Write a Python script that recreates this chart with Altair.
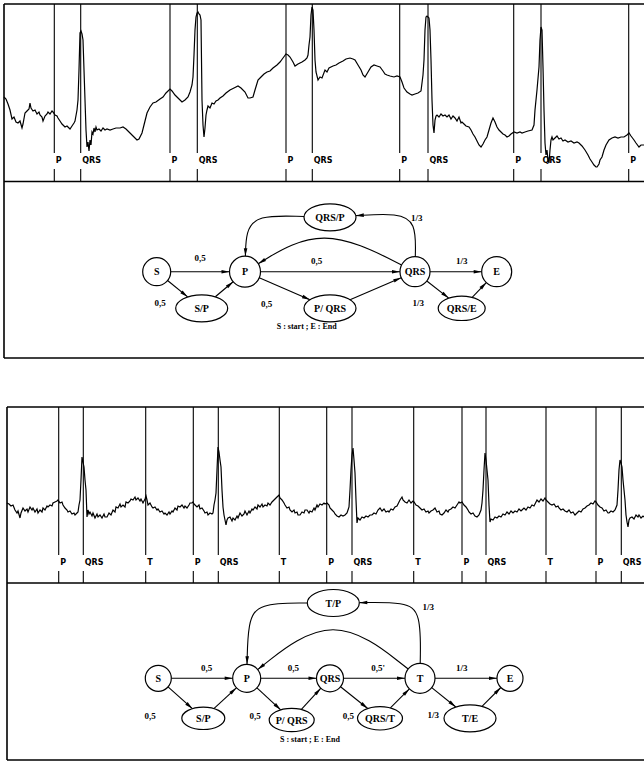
import math
import altair as alt
import pandas as pd

W, H = 644, 765

# ---------------- panel frames (pixel space, y downwards) ----------------
hline_y = [4, 181.5, 358, 407, 583, 760]
hline_x0 = [4, 4, 4, 7, 7, 7]
vline_x = [4, 7]
vline_y0 = [4, 407]
vline_y1 = [358, 760]

# ---------------- annotation markers on the ECG traces ----------------
top_marker_x = [54.3, 80.7, 170, 197.3, 286, 312.3, 399.7, 428, 513.7, 541, 628.7]
top_marker_lbl = ["P", "QRS", "P", "QRS", "P", "QRS", "P", "QRS", "P", "QRS", "P"]
low_marker_x = [58.7, 83.3, 145.7, 193.3, 218.3, 279.3, 326.7, 352, 413.7, 462, 486, 546, 596, 621.3]
low_marker_lbl = ["P", "QRS", "T", "P", "QRS", "T", "P", "QRS", "T", "P", "QRS", "T", "P", "QRS"]

# ---------------- ECG traces (x, y) ----------------
ecg_top = [(4,97),(6,99),(8,104),(10,110),(12,119),(14,117),(16,122),(18,123),(20,121),(22,128),(23,124),(25,113),
(27,111),(29,109),(30,103),(31,108),(33,111),(35,110),(37,114),(39,112),(40,115),(42,117),(43,121),(45,116),(47,114),
(48,112),(50,114),(52,111),(53,112),(55,115),(57,116),(58,118),(60,121),(62,124),(63,125),(65,127),(67,126),(69,128),
(70,129),(72,126),(74,123),(75,121),(77,110),(78,100),(79,70),(80,33),(81,31),(82,34),(83,40),(84,70),(85,100),(86,130),
(87,147),(88,142),(89,151),(90,140),(91,145),(92,132),(93,134),(94,128),(95,132),(96,127),(97,130),(99,129),(101,131),
(103,128),(105,130),(107,129),(110,130),(113,129),(116,128),(120,128),(123,127),(126,129),(130,133),(133,136),(137,140),
(139,139),(142,133),(144,125),(147,113),(150,107),(153,103),(156,102),(160,99),(163,97),(166,93),(170,89),(172,91),
(175,95),(178,98),(182,102),(185,100),(188,97),(190,92),(192,85),(193,77),(194,55),(195,30),(196,17),(197,13),(198,12),
(199,14),(200,15),(201,20),(201.5,60),(202,100),(203,125),(204,137),(205,128),(206,115),(207,110),(208,106),(210,108),
(212,103),(214,104),(216,101),(218,100),(220,98),(223,96),(226,93),(230,90),(234,88),(238,86),(241,88),(245,92),(248,98),
(250,98),(253,97),(255,90),(258,80),(261,77),(264,74),(267,72),(270,71),(273,68),(277,65),(280,62),(283,58),(286,54),
(288,55),(290,57),(293,62),(295,66),(298,64),(302,62),(305,60),(307,58),(308,55),(309,45),(310,37),(311,15),(312,7),
(313,10),(314,30),(315,60),(316,72),(318,80),(320,77),(322,78),(325,70),(327,72),(329,68),(333,66),(336,65),(339,63),
(343,61),(346,59),(350,58),(353,59),(355,60),(358,65),(361,70),(363,75),(365,77),(368,72),(371,67),(374,65),(377,66),
(380,67),(383,71),(385,74),(387,75),(390,76),(394,77),(397,76),(400,77),(402,82),(404,88),(407,92),(410,94),(412,95),
(415,94),(418,93),(421,91),(423,75),(424,60),(425,30),(426,17),(427,16),(429,18),(430,30),(431,60),(432,100),(433,125),
(434,133),(435,120),(436,116),(437,115),(439,117),(441,114),(443,116),(445,115),(447,117),(449,115),(451,119),(453,116),
(455,118),(457,121),(459,117),(461,123),(462,122),(464,124),(466,126),(469,127),(471,130),(473,134),(475,137),(477,141),
(479,145),(481,147),(483,144),(485,140),(487,137),(489,130),(491,123),(493,118),(495,122),(497,127),(499,130),(501,132),
(503,134),(505,135),(507,137),(509,136),(511,134),(514,132),(517,133),(520,132),(522,133),(525,132),(528,131),(532,130),
(534,125),(535,110),(537,90),(539,67),(540,40),(541,27),(542,30),(543,67),(544,110),(545,143),(546,155),(547,150),
(548,160),(549,163),(550,150),(551,140),(552,137),(553,140),(555,138),(557,136),(559,139),(561,138),(563,141),(565,140),
(568,142),(571,141),(574,143),(577,142),(579,143),(582,146),(585,150),(588,155),(590,159),(592,162),(594,165),(596,167),
(597,167),(599,164),(600,160),(602,157),(604,150),(606,145),(609,140),(612,138),(615,137),(618,138),(621,137),(624,137),
(627,135),(629,133),(631,136),(634,140),(636,143),(639,147),(641,145),(644,145)]

ecg_low = [(7,503),(9,504),(11,506),(13,505),(15,510),(17,513),(18,511),(20,518),(21,513),(23,508),(25,511),(27,509),
(28,512),(30,507),(32,510),(33,508),(35,512),(37,509),(38,513),(40,510),(42,512),(43,508),(45,510),(47,506),(48,507),
(50,505),(52,506),(53,503),(55,502),(57,501),(58,500),(60,503),(62,502),(63,505),(65,508),(67,510),(68,512),(70,511),
(72,514),(74,513),(75,515),(77,513),(78,512),(79,505),(80,500),(81,480),(82,457),(83,462),(84,467),(85,480),(86,490),
(87,517),(88,510),(89,514),(90,512),(92,516),(93,513),(95,518),(97,514),(98,517),(100,515),(102,518),(104,514),(105,517),
(107,517),(109,513),(111,515),(113,510),(115,512),(116,507),(118,508),(120,504),(121,507),(123,505),(125,507),(126,502),
(128,503),(130,501),(131,499),(133,500),(135,497),(136,500),(138,498),(140,501),(141,499),(143,503),(145,499),(146,496),
(147,500),(148,505),(150,503),(152,507),(153,508),(155,507),(157,510),(158,509),(160,512),(162,511),(164,514),(165,513),
(167,515),(169,512),(170,514),(172,511),(173,512),(175,508),(177,510),(178,506),(180,507),(182,505),(184,508),(185,506),
(187,508),(189,505),(190,503),(192,503),(193,502),(194,504),(195,505),(197,507),(199,505),(200,509),(202,508),(204,511),
(205,513),(207,512),(208,515),(210,513),(212,514),(213,513),(214,505),(215,500),(216,493),(217,470),(218,447),(219,452),
(220,460),(221,467),(222,490),(223,507),(224,515),(225,520),(226,525),(227,520),(228,518),(230,517),(232,521),(233,518),
(235,520),(237,516),(238,518),(240,513),(242,516),(244,514),(245,511),(247,515),(249,511),(250,513),(252,509),(253,510),
(255,507),(257,509),(258,505),(260,507),(262,504),(263,507),(265,505),(267,506),(268,503),(270,505),(272,502),(274,500),
(275,499),(277,497),(279,495),(280,498),(282,500),(284,503),(285,505),(287,508),(289,507),(290,510),(292,512),(294,510),
(295,513),(297,512),(298,515),(300,515),(302,512),(304,513),(305,510),(307,510),(309,513),(310,511),(312,512),(314,508),
(315,510),(317,505),(318,507),(320,504),(322,505),(324,503),(325,504),(327,503),(329,505),(330,508),(332,510),(334,512),
(335,514),(337,516),(339,517),(341,515),(343,516),(345,515),(347,513),(348,510),(349,507),(350,490),(351,470),(352,455),
(353,448),(354,460),(355,473),(356,500),(357,523),(358,518),(360,520),(362,517),(364,518),(366,516),(368,517),(370,515),
(372,515),(374,513),(376,514),(378,510),(380,508),(382,511),(384,509),(386,512),(388,511),(389,512),(391,509),(393,510),
(395,507),(397,506),(399,502),(400,500),(402,497),(403,500),(405,502),(407,503),(409,500),(411,503),(413,501),(414,502),
(416,505),(418,506),(420,508),(422,510),(424,509),(426,512),(428,511),(429,513),(431,511),(433,510),(435,508),(437,512),
(439,511),(440,514),(442,515),(444,513),(446,510),(448,512),(449,510),(451,509),(453,507),(455,508),(457,505),(459,502),
(460,503),(462,502),(464,505),(466,507),(468,510),(469,512),(471,514),(473,513),(475,516),(477,517),(479,515),(481,510),
(482,503),(483,490),(484,470),(485,453),(486,460),(487,470),(488,480),(489,505),(490,522),(491,519),(493,520),(495,517),
(497,518),(499,516),(501,517),(503,514),(505,515),(507,512),(509,514),(511,511),(513,513),(515,511),(517,512),(519,509),
(521,511),(522,510),(524,508),(526,510),(528,507),(530,508),(532,505),(534,506),(536,502),(537,500),(539,502),(541,499),
(543,501),(545,498),(546,500),(548,502),(550,504),(552,505),(554,504),(556,507),(558,506),(559,508),(561,510),(563,509),
(565,511),(567,512),(569,510),(571,513),(573,512),(575,515),(577,513),(579,511),(581,512),(583,509),(585,508),(587,506),
(589,505),(591,503),(593,504),(595,501),(596,502),(598,505),(600,507),(602,508),(604,511),(606,510),(608,513),(609,513),
(611,511),(613,512),(615,510),(617,505),(618,490),(619,470),(620,460),(621,463),(622,467),(623,480),(624,490),(625,500),
(626,515),(627,522),(628,527),(629,520),(630,518),(632,517),(634,519),(636,515),(638,517),(639,515),(641,518),(643,516),
(644,517)]

# ---------------- state diagram 1 (P / QRS) ----------------
d1_name = ["S", "P", "QRS", "E", "S/P", "P/ QRS", "QRS/E", "QRS/P"]
d1_x = [156.7, 245, 415, 496.7, 201.7, 330, 461.7, 330]
d1_y = [271.7, 271.7, 271.7, 271.7, 308.3, 308.3, 308.3, 217.3]
d1_r = [14, 15.5, 15, 15, 26, 26, 23.5, 26]          # radius / half-width
d1_kind = ["c", "c", "c", "c", "e", "e", "e", "e"]
d1_edges = [("S", "P"), ("S", "S/P"), ("S/P", "P"), ("P", "QRS"), ("P", "P/ QRS"),
            ("P/ QRS", "QRS"), ("QRS", "E"), ("QRS", "QRS/E"), ("QRS/E", "E")]
d1_curves = [("QRS", "P", [(322, 225)]),
             ("QRS", "QRS/P", [(416, 222), (398, 213)]),
             ("QRS/P", "P", [(256, 215), (246, 232)])]
d1_lbl = ["0,5", "0,5", "0,5", "0,5", "1/3", "1/3", "1/3"]
d1_lbl_x = [200, 160, 316.7, 266.7, 416.7, 461.7, 418.3]
d1_lbl_y = [257.5, 302.5, 260.5, 304, 217.5, 260.5, 303.3]
cap1 = ("S : start ; E : End", 306.7, 327)

# ---------------- state diagram 2 (P / QRS / T) ----------------
d2_name = ["S", "P", "QRS", "T", "E", "S/P", "P/ QRS", "QRS/T", "T/E", "T/P"]
d2_x = [158.3, 246.7, 330, 420, 510, 203.3, 291.7, 380, 470, 333.3]
d2_y = [678.3, 678.3, 678.3, 678.3, 678.3, 718.3, 720, 718.3, 718.3, 603]
d2_r = [13, 14, 13.5, 15, 13, 21.5, 22.5, 22.5, 26, 26]
d2_kind = ["c", "c", "c", "c", "c", "e", "e", "e", "e", "e"]
d2_edges = [("S", "P"), ("S", "S/P"), ("S/P", "P"), ("P", "QRS"), ("P", "P/ QRS"), ("P/ QRS", "QRS"),
            ("QRS", "T"), ("QRS", "QRS/T"), ("QRS/T", "T"), ("T", "E"), ("T", "T/E"), ("T/E", "E")]
d2_curves = [("T", "P", [(333, 610)]),
             ("T", "T/P", [(421, 612), (405, 602)]),
             ("T/P", "P", [(258, 603), (248, 622)])]
d2_lbl = ["0,5", "0,5", "0,5", "0,5", "0,5'", "0,5", "1/3", "1/3", "1/3"]
d2_lbl_x = [206.7, 150, 293.3, 255, 378, 348.3, 461.7, 433.3, 428.3]
d2_lbl_y = [667.5, 716, 667.5, 715.5, 667.5, 715.5, 667.5, 715, 606.5]
cap2 = ("S : start ; E : End", 310, 740)

ASPECT = 0.52
K = 0.5523
ELLIPSE = (f"M-1,0C-1,{-K*ASPECT:.3f} {-K:.3f},{-ASPECT} 0,{-ASPECT}"
           f"C{K:.3f},{-ASPECT} 1,{-K*ASPECT:.3f} 1,0"
           f"C1,{K*ASPECT:.3f} {K:.3f},{ASPECT} 0,{ASPECT}"
           f"C{-K:.3f},{ASPECT} -1,{K*ASPECT:.3f} -1,0Z")
ARROW = "M1,0L-1,-0.45L-1,0.45Z"
ARROW_LEN = 8

# ---------------- build tables ----------------
seg_frame = []
for y, x0 in zip(hline_y, hline_x0):
    seg_frame.append(dict(x=x0, y=y, x2=W, y2=y))
for x, y0, y1 in zip(vline_x, vline_y0, vline_y1):
    seg_frame.append(dict(x=x, y=y0, x2=x, y2=y1))

seg_mark, mark_txt = [], []
for x, l in zip(top_marker_x, top_marker_lbl):
    seg_mark.append(dict(x=x, y=4, x2=x, y2=153))
    seg_mark.append(dict(x=x, y=169, x2=x, y2=181.5))
    mark_txt.append(dict(x=x + 1.5, y=161, t=l))
for x, l in zip(low_marker_x, low_marker_lbl):
    seg_mark.append(dict(x=x, y=407, x2=x, y2=555))
    seg_mark.append(dict(x=x, y=571, x2=x, y2=583))
    mark_txt.append(dict(x=x + 1.5, y=563, t=l))

ecg_rows = []
for sid, tr in (("top", ecg_top), ("low", ecg_low)):
    for i, (x, y) in enumerate(tr):
        ecg_rows.append(dict(id=sid, i=i, x=x, y=y))

node_rows, edge_rows, curve_rows, arrow_rows, txt_rows, lbl_rows = [], [], [], [], [], []


def build(names, xs_, ys_, rs, kinds, edges, curves, lbl, lx, ly, cap, tag):
    nodes = {}
    for n, x, y, r, k in zip(names, xs_, ys_, rs, kinds):
        ry = r if k == "c" else r * ASPECT
        nodes[n] = (x, y, r, ry)
        node_rows.append(dict(x=x, y=y, size=(2 * r) ** 2, kind=k))
        txt_rows.append(dict(x=x, y=y + 0.5, t=n))

    def bnd(n, tx, ty):
        cx, cy, rx, ry = nodes[n]
        dx, dy = tx - cx, ty - cy
        t = 1 / math.sqrt((dx / rx) ** 2 + (dy / ry) ** 2)
        return cx + dx * t, cy + dy * t

    def arrow(px, py, ex, ey):
        dx, dy = ex - px, ey - py
        L = math.hypot(dx, dy)
        ux, uy = dx / L, dy / L
        arrow_rows.append(dict(x=ex - ux * ARROW_LEN / 2, y=ey - uy * ARROW_LEN / 2,
                               ang=math.degrees(math.atan2(dy, dx)) % 360))

    for a, b in edges:
        ax, ay = nodes[a][:2]
        bx, by = nodes[b][:2]
        sx, sy = bnd(a, bx, by)
        ex, ey = bnd(b, ax, ay)
        edge_rows.append(dict(x=sx, y=sy, x2=ex, y2=ey))
        arrow(sx, sy, ex, ey)
    for j, (a, b, way) in enumerate(curves):
        sx, sy = bnd(a, *way[0])
        ex, ey = bnd(b, *way[-1])
        pts = [(sx, sy)] + way + [(ex, ey)]
        for i, (x, y) in enumerate(pts):
            curve_rows.append(dict(id=f"{tag}{j}", i=i, x=x, y=y))
        arrow(way[-1][0], way[-1][1], ex, ey)
    for t, x, y in zip(lbl, lx, ly):
        lbl_rows.append(dict(x=x, y=y, t=t))
    lbl_rows.append(dict(x=cap[1], y=cap[2], t=cap[0], cap=1))


build(d1_name, d1_x, d1_y, d1_r, d1_kind, d1_edges, d1_curves, d1_lbl, d1_lbl_x, d1_lbl_y, cap1, "a")
build(d2_name, d2_x, d2_y, d2_r, d2_kind, d2_edges, d2_curves, d2_lbl, d2_lbl_x, d2_lbl_y, cap2, "b")

# ---------------- chart ----------------
xs = alt.Scale(domain=[0, W], nice=False, zero=False)
ys = alt.Scale(domain=[0, H], nice=False, zero=False, reverse=True)
X = alt.X("x:Q", scale=xs, axis=None)
Y = alt.Y("y:Q", scale=ys, axis=None)

frames = alt.Chart(pd.DataFrame(seg_frame)).mark_rule(color="black", strokeWidth=1.6).encode(
    x=X, y=Y, x2="x2:Q", y2="y2:Q")
markers = alt.Chart(pd.DataFrame(seg_mark)).mark_rule(color="black", strokeWidth=1.1).encode(
    x=X, y=Y, x2="x2:Q", y2="y2:Q")
marker_text = alt.Chart(pd.DataFrame(mark_txt)).mark_text(
    font="DejaVu Sans", fontSize=8, fontWeight="bold", align="left", baseline="middle",
    color="black").encode(x=X, y=Y, text="t:N")
ecg = alt.Chart(pd.DataFrame(ecg_rows)).mark_line(color="black", strokeWidth=1.2).encode(
    x=X, y=Y, detail="id:N", order="i:Q")
edges_c = alt.Chart(pd.DataFrame(edge_rows)).mark_rule(color="black", strokeWidth=1.1).encode(
    x=X, y=Y, x2="x2:Q", y2="y2:Q")
curves_c = alt.Chart(pd.DataFrame(curve_rows)).mark_line(
    color="black", strokeWidth=1.1, interpolate="basis").encode(x=X, y=Y, detail="id:N", order="i:Q")
arrows_c = alt.Chart(pd.DataFrame(arrow_rows)).mark_point(
    shape=ARROW, filled=True, color="black", opacity=1, size=ARROW_LEN ** 2).encode(
    x=X, y=Y, angle=alt.Angle("ang:Q", scale=None))
ndf = pd.DataFrame(node_rows)
circles = alt.Chart(ndf[ndf.kind == "c"]).mark_point(
    shape="circle", filled=True, fill="white", stroke="black", strokeWidth=1.2, opacity=1).encode(
    x=X, y=Y, size=alt.Size("size:Q", scale=None))
ellipses = alt.Chart(ndf[ndf.kind == "e"]).mark_point(
    shape=ELLIPSE, filled=True, fill="white", stroke="black", strokeWidth=1.2, opacity=1).encode(
    x=X, y=Y, size=alt.Size("size:Q", scale=None))
node_text = alt.Chart(pd.DataFrame(txt_rows)).mark_text(
    font="Liberation Serif", fontSize=10, fontWeight="bold", align="center", baseline="middle",
    color="black").encode(x=X, y=Y, text="t:N")
ldf = pd.DataFrame(lbl_rows)
ldf["cap"] = ldf["cap"].fillna(0)
edge_text = alt.Chart(ldf[ldf.cap == 0]).mark_text(
    font="Liberation Serif", fontSize=9, fontWeight="bold", align="center", baseline="middle",
    color="black").encode(x=X, y=Y, text="t:N")
cap_text = alt.Chart(ldf[ldf.cap == 1]).mark_text(
    font="Liberation Serif", fontSize=8, fontWeight="bold", align="center", baseline="middle",
    color="black").encode(x=X, y=Y, text="t:N")

chart = alt.layer(frames, markers, ecg, marker_text, edges_c, curves_c, arrows_c,
                  circles, ellipses, node_text, edge_text, cap_text).properties(
    width=W, height=H, padding=0, autosize=alt.AutoSizeParams(type="none"),
    background="white").configure_view(stroke=None)

chart.save("out.html", embed_options={"renderer": "svg", "actions": False})
